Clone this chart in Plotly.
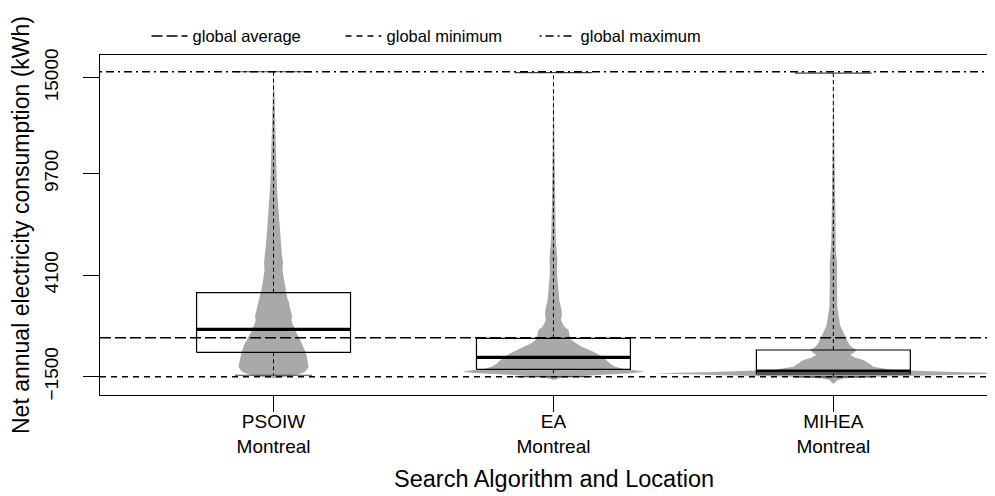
import plotly.graph_objects as go

# ---------------- data ----------------
algorithms = ["PSOIW", "EA", "MIHEA"]
locations = ["Montreal", "Montreal", "Montreal"]

q1 = [-153, -1092, -1351]
median = [1116, -429, -1185]
q3 = [3136, 619, -27]
whisker_low = [-1420, -1500, -1505]
whisker_high = [15330, 15280, 15250]

global_average = 652
global_minimum = -1505
global_maximum = 15330

y_tick_values = [-1500, 4100, 9700, 15000]
y_tick_labels = ["\u22121500", "4100", "9700", "15000"]

# bean (density) outlines: value and half-width (x-axis units)
psoiw_bean_y = [-1572, -1540, -1500, -1406, -1250, -1130, -948, -700, -500, -300, -120, 100, 300, 500,
                707, 950, 1200, 1400, 1629, 1850, 2100, 2350, 2567, 2800, 3100, 3400, 3671, 4000,
                4389, 4800, 5200, 5492, 6000, 6596, 7300, 8252, 9000, 9907, 11011, 12667, 14323, 15330]
psoiw_bean_w = [0.0, 0.03, 0.05, 0.08, 0.11, 0.118, 0.125, 0.122, 0.12, 0.118, 0.114, 0.108, 0.104, 0.096,
                0.09, 0.08, 0.075, 0.068, 0.064, 0.066, 0.062, 0.058, 0.056, 0.05, 0.046, 0.042, 0.039, 0.036,
                0.032, 0.034, 0.03, 0.029, 0.026, 0.023, 0.019, 0.015, 0.012, 0.01, 0.008, 0.005, 0.003, 0.0]

ea_bean_y = [-1682, -1600, -1500, -1400, -1296, -1224, -1150, -1075, -948, -800, -672, -450, -209, 0,
             156, 350, 525, 800, 1077, 1250, 1353, 1629, 1900, 2181, 2700, 3285, 4223, 5000, 5492,
             6200, 8252, 11011, 13770, 15280]
ea_bean_w = [0.0, 0.018, 0.054, 0.143, 0.286, 0.325, 0.293, 0.25, 0.221, 0.204, 0.196, 0.179, 0.154, 0.125,
             0.1, 0.079, 0.064, 0.057, 0.054, 0.039, 0.036, 0.027, 0.03, 0.029, 0.021, 0.018, 0.0125, 0.014, 0.011,
             0.008, 0.005, 0.0036, 0.0018, 0.0]

mihea_bean_y = [-1903, -1800, -1682, -1600, -1517, -1406, -1312, -1250, -1213, -1130, -948, -750, -578,
                -450, -302, -150, -27, 150, 343, 707, 1077, 1300, 1629, 2363, 3836, 4800, 5492, 6200,
                8252, 11011, 13770, 15250]
mihea_bean_w = [0.0, 0.007, 0.014, 0.036, 0.107, 0.429, 0.643, 0.464, 0.357, 0.214, 0.143, 0.125, 0.107,
                0.079, 0.061, 0.075, 0.082, 0.064, 0.054, 0.043, 0.032, 0.025, 0.021, 0.014, 0.0125, 0.013, 0.009,
                0.007, 0.005, 0.0036, 0.0018, 0.0]

bean_y = [psoiw_bean_y, ea_bean_y, mihea_bean_y]
bean_w = [psoiw_bean_w, ea_bean_w, mihea_bean_w]

# ---------------- styling ----------------
FONT = "Liberation Sans, Arial, Helvetica, sans-serif"
GREY = "#A9A9A9"
BOX_HALF = 0.275
CAP_HALF = 0.1375
X_RANGE = [0.38, 3.5775]
Y_RANGE = [-2510, 16254]
PAGE_OFFSET = 8  # default body margin of the html page

fig = go.Figure()
positions = [i + 1 for i in range(len(algorithms))]

# beans
for pos, ys, ws in zip(positions, bean_y, bean_w):
    xs = [pos - w for w in ws] + [pos + w for w in reversed(ws)]
    yy = list(ys) + list(reversed(ys))
    fig.add_trace(go.Scatter(x=xs, y=yy, mode="lines", fill="toself", fillcolor=GREY,
                             line=dict(width=0, color=GREY), showlegend=False, hoverinfo="skip"))

# boxplots
for i, pos in enumerate(positions):
    fig.add_trace(go.Scatter(
        x=[pos - BOX_HALF, pos + BOX_HALF, pos + BOX_HALF, pos - BOX_HALF, pos - BOX_HALF],
        y=[q1[i], q1[i], q3[i], q3[i], q1[i]], mode="lines",
        line=dict(color="black", width=1.2), showlegend=False, hoverinfo="skip"))
    fig.add_trace(go.Scatter(x=[pos - BOX_HALF, pos + BOX_HALF], y=[median[i], median[i]], mode="lines",
                             line=dict(color="black", width=3.2), showlegend=False, hoverinfo="skip"))
    for a, b in ((q3[i], whisker_high[i]), (q1[i], whisker_low[i])):
        fig.add_trace(go.Scatter(x=[pos, pos], y=[a, b], mode="lines",
                                 line=dict(color="black", width=1, dash="4px,3px"),
                                 showlegend=False, hoverinfo="skip"))
    for v in (whisker_high[i], whisker_low[i]):
        fig.add_trace(go.Scatter(x=[pos - CAP_HALF, pos + CAP_HALF], y=[v, v], mode="lines",
                                 line=dict(color="#444444", width=1.2), showlegend=False, hoverinfo="skip"))

# global reference lines
for name, val, dash in (("global average", global_average, "11px,4px"),
                        ("global minimum", global_minimum, "6px,5px"),
                        ("global maximum", global_maximum, "2px,4px,8px,4px")):
    fig.add_trace(go.Scatter(x=X_RANGE, y=[val, val], mode="lines", name=name,
                             line=dict(color="black", width=1.4, dash=dash), hoverinfo="skip"))

tick_text = [f"{a}<br>{l}" for a, l in zip(algorithms, locations)]

fig.update_layout(
    width=995 - PAGE_OFFSET, height=496 - PAGE_OFFSET,
    margin=dict(l=100 - PAGE_OFFSET, r=0, t=55 - PAGE_OFFSET, b=101, pad=0, autoexpand=False),
    paper_bgcolor="white", plot_bgcolor="white",
    font=dict(family=FONT, color="black"),
    showlegend=True,
    legend=dict(orientation="h", x=0.052, xanchor="left", y=1.055, yanchor="middle",
                bgcolor="rgba(0,0,0,0)", font=dict(size=16.5, family=FONT),
                entrywidth=143, entrywidthmode="pixels", itemwidth=36),
    xaxis=dict(range=X_RANGE, tickvals=positions, ticktext=tick_text, ticks="outside", ticklen=16,
               tickwidth=1.3, tickcolor="black", showline=True, linecolor="black", linewidth=1.3,
               mirror=True, showgrid=False, zeroline=False, tickfont=dict(size=19, family=FONT),
               ticklabelstandoff=-7, automargin=False),
    yaxis=dict(range=Y_RANGE, tickvals=y_tick_values, ticktext=y_tick_labels, tickangle=-90,
               ticks="outside", ticklen=16, tickwidth=1.3, tickcolor="black", showline=True,
               linecolor="black", linewidth=1.3, mirror=False, showgrid=False, zeroline=False,
               tickfont=dict(size=19, family=FONT), ticklabelstandoff=17, automargin=False),
    annotations=[
        dict(text="Net annual electricity consumption (kWh)", xref="paper", yref="paper",
             x=(21 - 100) / 895, y=0.5, xanchor="center", yanchor="middle", textangle=-90,
             showarrow=False, font=dict(size=23, family=FONT)),
        dict(text="Search Algorithm and Location", xref="paper", yref="paper",
             x=(553.5 - 100) / 895, y=(395 - 479) / 340, xanchor="center", yanchor="middle",
             showarrow=False, font=dict(size=23.5, family=FONT)),
    ],
)

fig.write_html("out.html")
